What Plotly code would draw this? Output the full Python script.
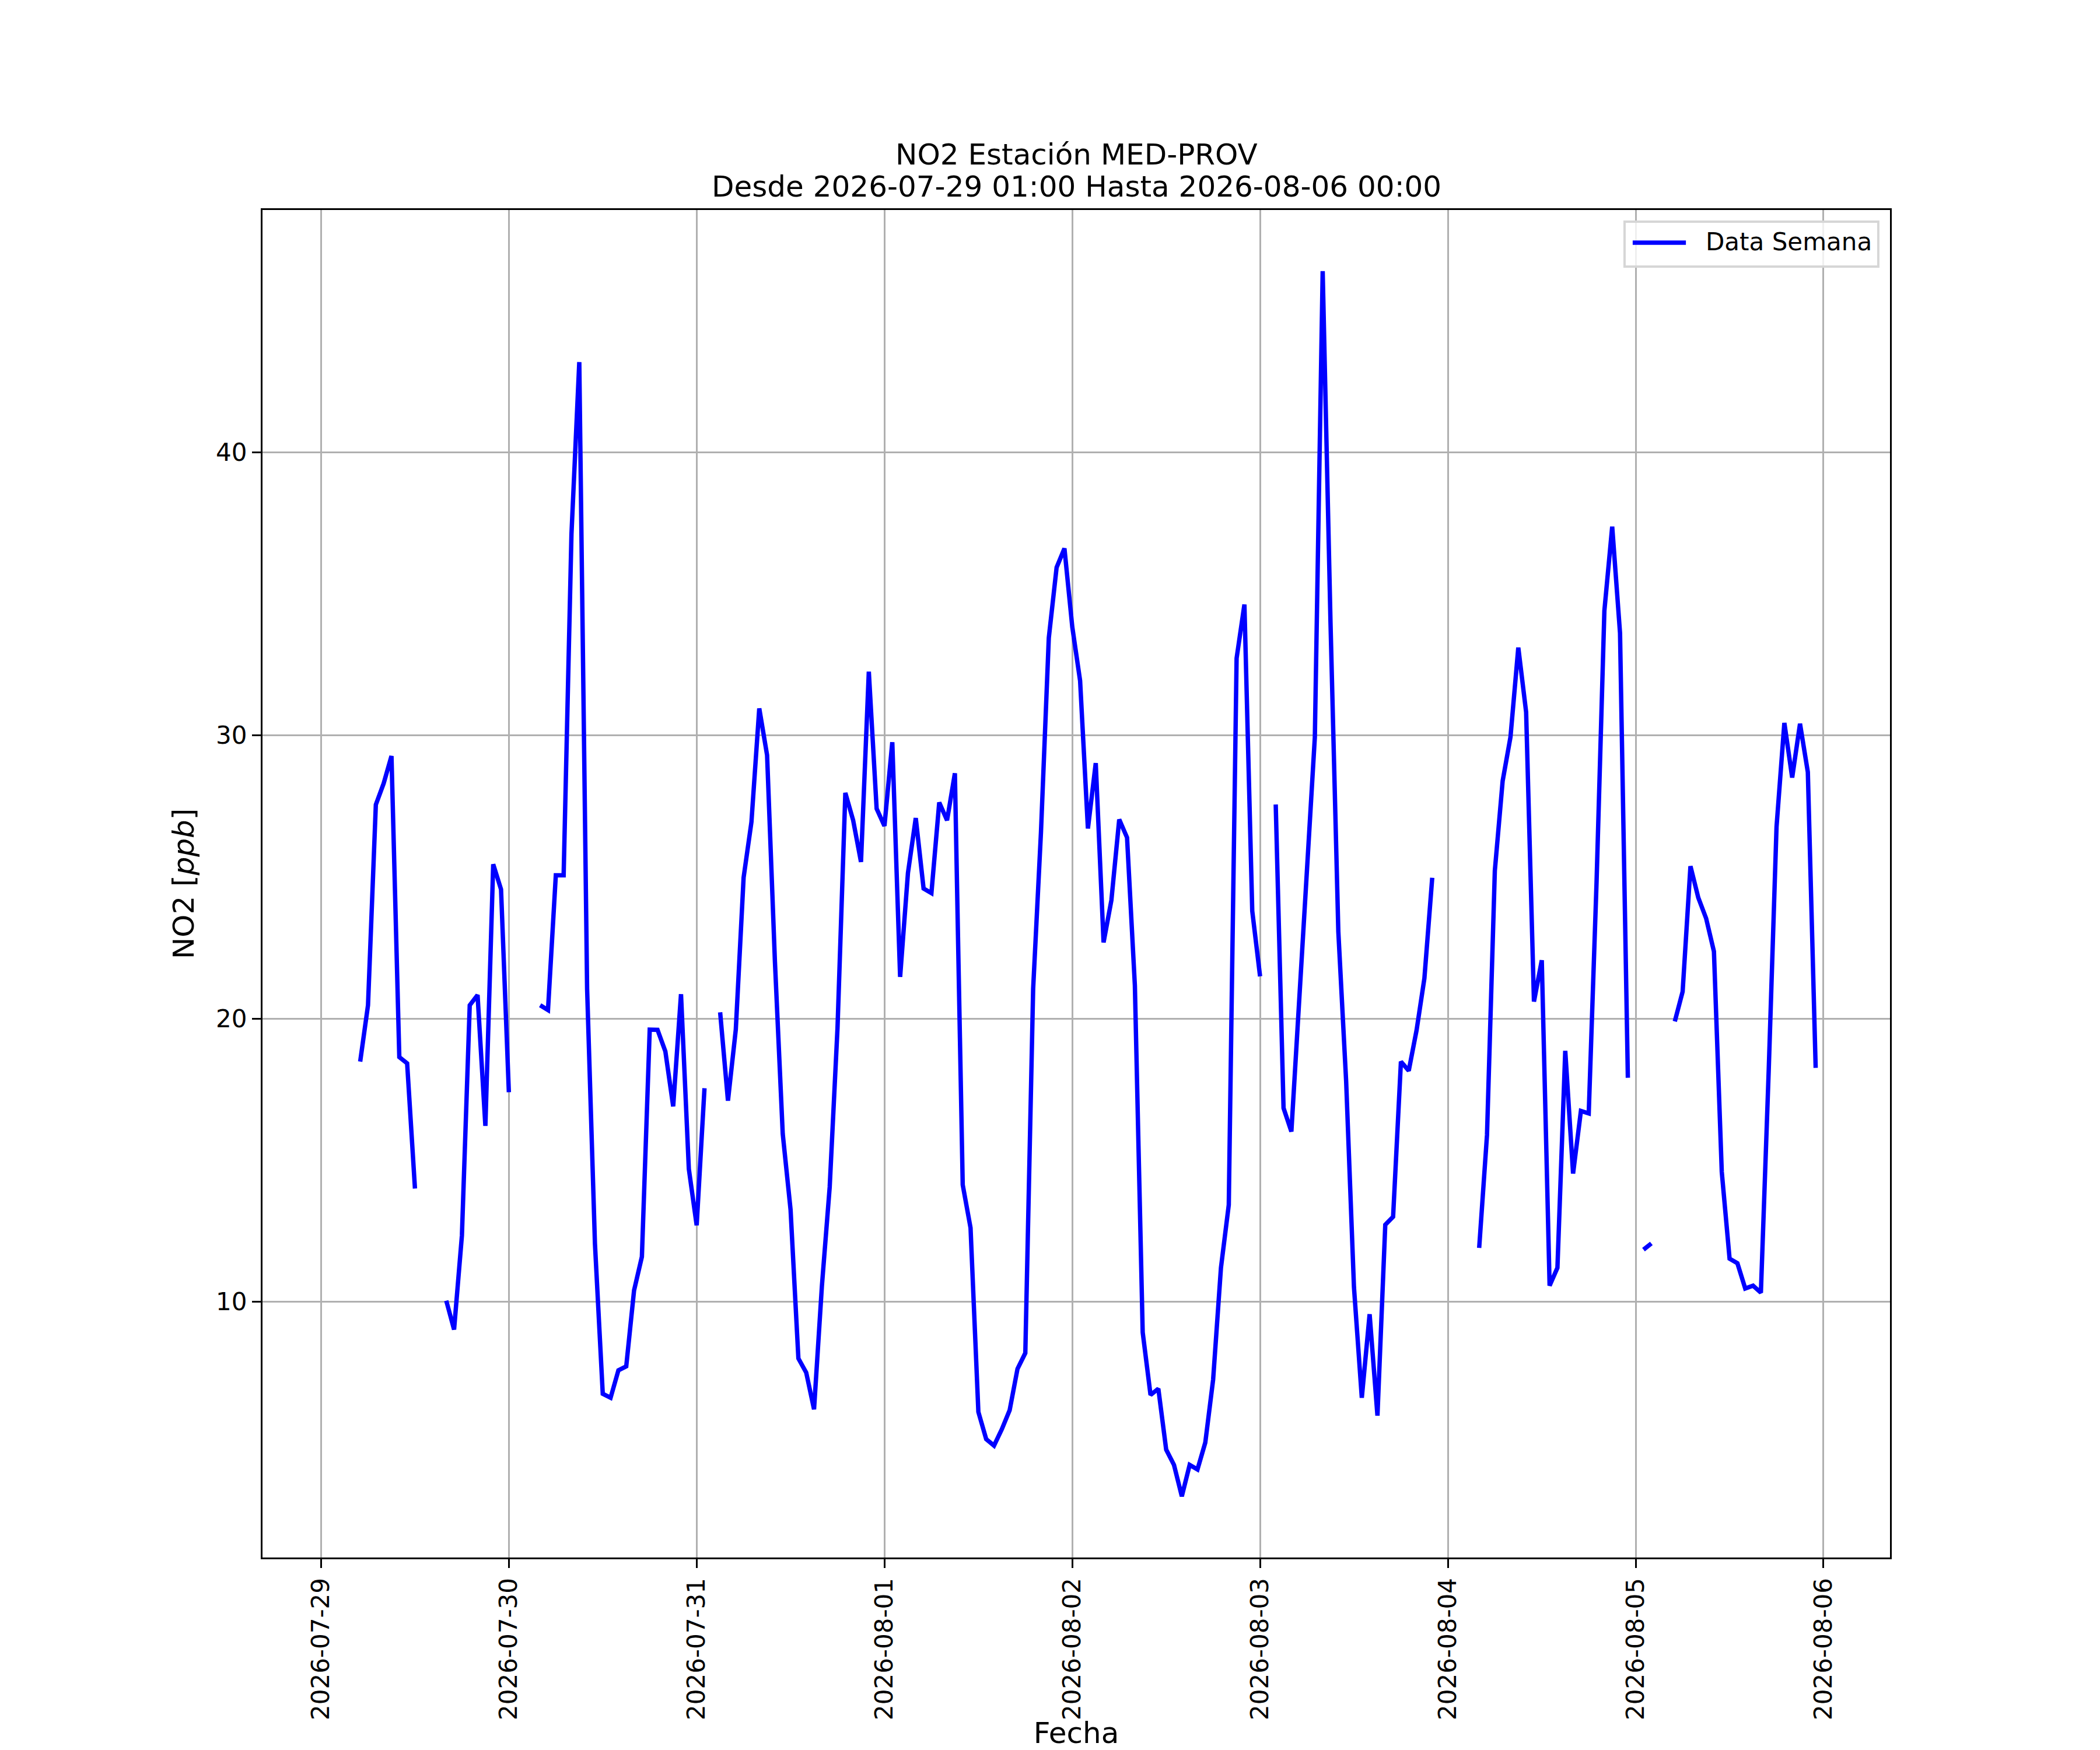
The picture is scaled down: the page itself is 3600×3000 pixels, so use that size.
import pandas as pd
import plotly.graph_objects as go

# hourly NO2 values, 2026-07-29 01:00 .. 2026-08-06 00:00 (None = no data)
inicio = "2026-07-29 01:00"
no2 = [
    None, None, None, None, 18.48, 20.47, 27.55, 28.3, 29.27, 18.64, 18.42, 14.0,
    None, None, None, 10.04, 9.02, 12.34, 20.47, 20.83, 16.21, 25.45, 24.56, 17.4,
    None, None, None, 20.47, 20.3, 25.06, 25.06, 37.1, 43.18, 21.05, 12.06, 6.75,
    6.61, 7.58, 7.72, 10.4, 11.59, 19.61, 19.6, 18.84, 16.9, 20.86, 14.69, 12.7,
    17.54, None, 20.22, 17.1, 19.61, 24.98, 26.94, 30.95, 29.3, 22.02, 15.93, 13.25,
    8.0, 7.5, 6.2, 10.54, 14.05, 19.67, 27.97, 27.0, 25.53, 32.25, 27.41, 26.8,
    29.76, 21.47, 25.14, 27.08, 24.59, 24.43, 27.63, 27.0, 28.66, 14.13, 12.61, 6.11,
    5.15, 4.92, 5.5, 6.17, 7.63, 8.19, 21.05, 26.58, 33.44, 35.93, 36.6, 33.83,
    31.93, 26.71, 29.02, 22.69, 24.18, 27.03, 26.39, 21.17, 8.92, 6.71, 6.93, 4.78,
    4.24, 3.13, 4.24, 4.08, 5.03, 7.25, 11.2, 13.42, 32.72, 34.62, 23.8, 21.49,
    None, 27.56, 16.84, 16.01, 20.38, 25.28, 29.94, 46.39, 33.99, 23.07, 17.78, 10.51,
    6.61, 9.56, 5.98, 12.72, 13.0, 18.48, 18.16, 19.59, 21.42, 24.97, None, None,
    None, None, None, 11.9, 15.89, 25.22, 28.39, 29.94, 33.1, 30.82, 20.6, 22.06,
    10.57, 11.2, 18.86, 14.53, 16.74, 16.65, 24.81, 34.4, 37.37, 33.61, 17.91, None,
    11.84, 12.06, None, None, 19.9, 20.95, 25.38, 24.27, 23.54, 22.37, 14.59, 11.52,
    11.36, 10.47, 10.57, 10.32, 18.16, 26.77, 30.44, 28.51, 30.41, 28.7, 18.26, None,
]
fechas = pd.date_range(inicio, periods=len(no2), freq="h")

dias = ["2026-07-29", "2026-07-30", "2026-07-31", "2026-08-01", "2026-08-02",
        "2026-08-03", "2026-08-04", "2026-08-05", "2026-08-06"]
yticks = [10, 20, 30, 40]

nombre = "Data Semana"
titulo1 = "NO2 Estación MED-PROV"
titulo2 = "Desde 2026-07-29 01:00 Hasta 2026-08-06 00:00"

azul = "#0000ff"
font = "DejaVu Sans, Verdana, sans-serif"

fig = go.Figure()
fig.add_trace(go.Scatter(
    x=fechas, y=no2, mode="lines", name=nombre,
    line=dict(color=azul, width=7.5), connectgaps=False,
))

eje = dict(
    showline=True, linecolor="black", linewidth=3.3, mirror=True,
    ticks="outside", ticklen=15, tickwidth=3.3, tickcolor="black",
    showgrid=True, gridcolor="#b0b0b0", gridwidth=3.3, zeroline=False,
    tickfont=dict(family=font, size=42, color="black"), automargin=False,
)

# page has an 8px body margin, so the figure is 8px smaller and shifted
fig.update_layout(
    width=3592, height=2992,
    margin=dict(l=442, r=360, t=352, b=330),
    paper_bgcolor="white", plot_bgcolor="white",
    font=dict(family=font, color="black"),
    showlegend=False,
    xaxis=dict(eje, type="date",
               range=["2026-07-28 16:31", "2026-08-06 08:30"],
               tickvals=dias, ticktext=dias, tickangle=-90,
               title=dict(text="Fecha", standoff=14,
                          font=dict(family=font, size=50, color="black"))),
    yaxis=dict(eje, range=[0.97, 48.55], tickvals=yticks,
               title=dict(text="NO2 [<i>ppb</i>]", standoff=22,
                          font=dict(family=font, size=50, color="black"))),
)

# title, two lines, centred over the axes
for txt, shift in [(titulo1, 64), (titulo2, 9)]:
    fig.add_annotation(text=txt, xref="paper", yref="paper", x=0.5, y=1,
                       xanchor="center", yanchor="bottom", yshift=shift,
                       showarrow=False,
                       font=dict(family=font, size=50, color="black"))

# legend box in the upper right corner (matplotlib style)
fig.add_shape(type="rect", xref="paper", yref="paper",
              x0=0.8369, x1=0.9928, y0=0.9580, y1=0.9913,
              fillcolor="rgba(255,255,255,0.8)",
              line=dict(color="#d6d6d6", width=4), layer="above")
fig.add_shape(type="line", xref="paper", yref="paper",
              x0=0.8419, x1=0.8746, y0=0.9758, y1=0.9758,
              line=dict(color=azul, width=7.5), layer="above")
fig.add_annotation(text=nombre, xref="paper", yref="paper", x=0.8860, y=0.9766,
                   xanchor="left", yanchor="middle", showarrow=False,
                   font=dict(family=font, size=42, color="black"))

fig.write_html("out.html", config={"displayModeBar": False})
